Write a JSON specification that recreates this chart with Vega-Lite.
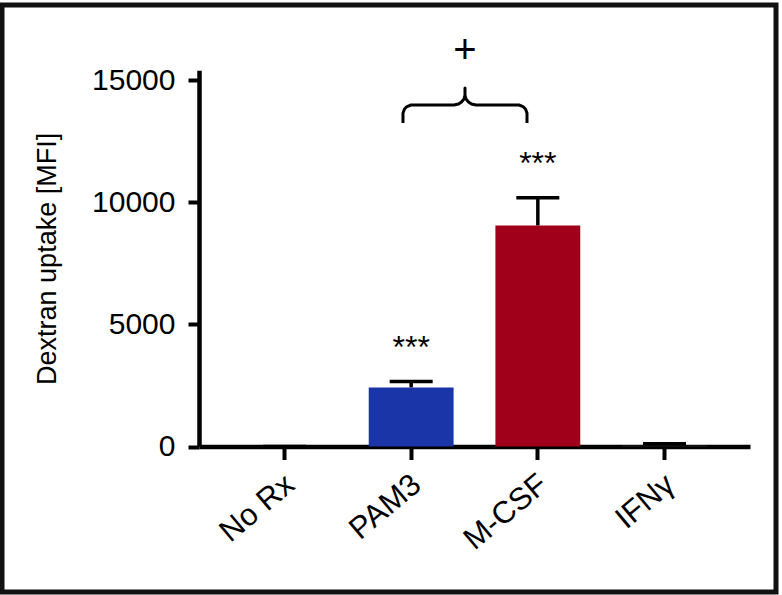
{
  "$schema": "https://vega.github.io/schema/vega-lite/v6.json",
  "width": 774,
  "height": 587,
  "autosize": {"type": "none"},
  "padding": {"left": 2, "top": 5, "right": 6, "bottom": 3},
  "background": "white",
  "config": {
    "view": {"stroke": "#111111", "strokeWidth": 5},
    "font": "Liberation Sans",
    "text": {"font": "Liberation Sans", "color": "black"}
  },
  "datasets": {
    "groups": [
      {"treatment": "No Rx", "mean": 0, "upper": 0},
      {"treatment": "PAM3", "mean": 2420, "upper": 2660, "sig": "***"},
      {"treatment": "M-CSF", "mean": 9050, "upper": 10180, "sig": "***"},
      {"treatment": "IFNγ", "mean": 40, "upper": 110}
    ],
    "brace": [
      {"i": 0, "u": 0.9361, "v": 13242},
      {"i": 1, "u": 0.9361, "v": 13651},
      {"i": 2, "u": 0.9479, "v": 13815},
      {"i": 3, "u": 0.9676, "v": 13917},
      {"i": 4, "u": 0.9992, "v": 13979},
      {"i": 5, "u": 1.3386, "v": 13979},
      {"i": 6, "u": 1.3741, "v": 14020},
      {"i": 7, "u": 1.3978, "v": 14101},
      {"i": 8, "u": 1.4175, "v": 14224},
      {"i": 9, "u": 1.4254, "v": 14388},
      {"i": 10, "u": 1.4254, "v": 14675},
      {"i": 11, "u": 1.4254, "v": 14388},
      {"i": 12, "u": 1.4333, "v": 14224},
      {"i": 13, "u": 1.4530, "v": 14101},
      {"i": 14, "u": 1.4767, "v": 14020},
      {"i": 15, "u": 1.5122, "v": 13979},
      {"i": 16, "u": 1.8516, "v": 13979},
      {"i": 17, "u": 1.8832, "v": 13917},
      {"i": 18, "u": 1.9029, "v": 13815},
      {"i": 19, "u": 1.9148, "v": 13651},
      {"i": 20, "u": 1.9148, "v": 13242}
    ],
    "plus": [
      {"u": 1.4254, "v": 15698, "label": "+"}
    ]
  },
  "layer": [
    {
      "data": {"name": "groups"},
      "encoding": {
        "x": {
          "field": "treatment",
          "type": "nominal",
          "sort": ["No Rx", "PAM3", "M-CSF", "IFNγ"],
          "scale": {"range": [197, 748], "paddingInner": 0.33, "paddingOuter": 0.34},
          "axis": {
            "title": null,
            "domainWidth": 4.5,
            "domainColor": "black",
            "tickColor": "black",
            "tickWidth": 4,
            "tickSize": 13,
            "labelAngle": -40,
            "labelFontSize": 31,
            "labelColor": "black",
            "labelPadding": 21,
            "labelOffset": 6,
            "labelAlign": "right",
            "labelBaseline": "middle",
            "offset": -145.5
          }
        }
      },
      "layer": [
        {
          "mark": {"type": "bar"},
          "encoding": {
            "y": {
              "field": "mean",
              "type": "quantitative",
              "title": "Dextran uptake [MFI]",
              "scale": {"domain": [0, 15400], "range": [441.5, 65.3], "nice": false, "zero": true},
              "axis": {
                "values": [0, 5000, 10000, 15000],
                "format": "d",
                "grid": false,
                "domainWidth": 4.5,
                "domainColor": "black",
                "tickColor": "black",
                "tickWidth": 4,
                "tickSize": 11,
                "labelFontSize": 30,
                "labelColor": "black",
                "labelPadding": 13,
                "titleFontSize": 27,
                "titleFontWeight": "normal",
                "titleColor": "black",
                "titlePadding": 30,
                "offset": -197
              }
            },
            "color": {
              "field": "treatment",
              "type": "nominal",
              "scale": {"domain": ["No Rx", "PAM3", "M-CSF", "IFNγ"], "range": ["#555555", "#1A35A8", "#A0001A", "#222222"]},
              "legend": null
            }
          }
        },
        {
          "mark": {"type": "rule", "strokeWidth": 3.5, "color": "black"},
          "encoding": {
            "y": {"field": "mean", "type": "quantitative", "title": "Dextran uptake [MFI]"},
            "y2": {"field": "upper"}
          }
        },
        {
          "mark": {"type": "tick", "size": 43, "thickness": 3.5, "color": "black", "opacity": 1},
          "encoding": {
            "y": {"field": "upper", "type": "quantitative", "title": "Dextran uptake [MFI]"}
          }
        },
        {
          "transform": [{"filter": "datum.sig"}],
          "mark": {"type": "text", "fontSize": 32, "dy": -24, "baseline": "alphabetic", "align": "center"},
          "encoding": {
            "y": {"field": "upper", "type": "quantitative", "title": "Dextran uptake [MFI]"},
            "text": {"field": "sig"}
          }
        }
      ]
    },
    {
      "encoding": {
        "x": {
          "field": "u",
          "type": "quantitative",
          "scale": {"domain": [-0.674, 3.675], "range": [197, 748], "nice": false, "zero": false},
          "axis": null
        },
        "y": {"field": "v", "type": "quantitative", "title": "Dextran uptake [MFI]"}
      },
      "layer": [
        {
          "data": {"name": "brace"},
          "mark": {"type": "line", "strokeWidth": 3, "color": "black", "strokeJoin": "round"},
          "encoding": {"order": {"field": "i", "type": "quantitative"}}
        },
        {
          "data": {"name": "plus"},
          "mark": {"type": "text", "fontSize": 40, "baseline": "alphabetic", "align": "center"},
          "encoding": {"text": {"field": "label"}}
        }
      ]
    }
  ],
  "resolve": {"scale": {"x": "independent"}, "axis": {"x": "independent"}}
}
